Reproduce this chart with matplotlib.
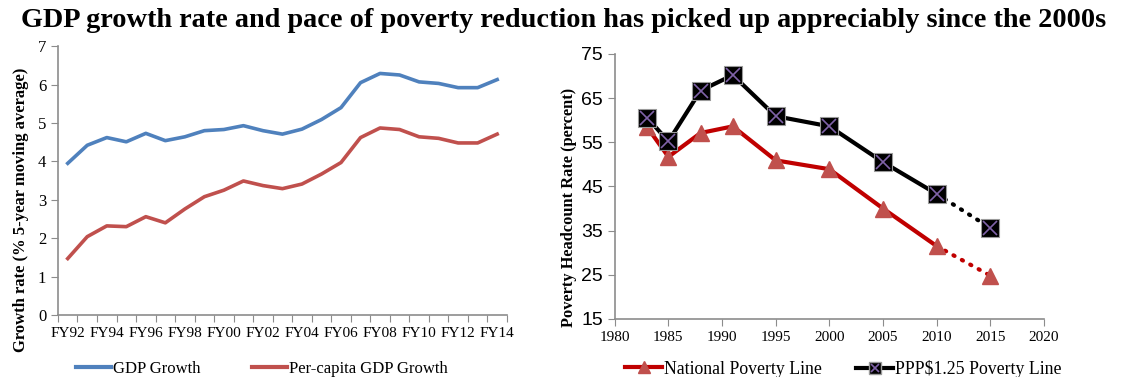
import matplotlib
matplotlib.use("Agg")
import matplotlib.pyplot as plt
from matplotlib.lines import Line2D

# ---- data -------------------------------------------------------------
fiscal_years = ["FY92", "FY93", "FY94", "FY95", "FY96", "FY97", "FY98", "FY99",
                "FY00", "FY01", "FY02", "FY03", "FY04", "FY05", "FY06", "FY07",
                "FY08", "FY09", "FY10", "FY11", "FY12", "FY13", "FY14"]
gdp_growth = [3.95, 4.42, 4.62, 4.51, 4.73, 4.54, 4.64, 4.80, 4.83, 4.93, 4.80,
              4.71, 4.84, 5.09, 5.40, 6.05, 6.29, 6.25, 6.07, 6.03, 5.92, 5.92, 6.13]
percap_growth = [1.47, 2.04, 2.32, 2.30, 2.56, 2.40, 2.76, 3.08, 3.25, 3.49, 3.37,
                 3.29, 3.41, 3.67, 3.97, 4.62, 4.87, 4.83, 4.64, 4.60, 4.48, 4.48, 4.71]

survey_years = [1983, 1985, 1988, 1991, 1995, 2000, 2005, 2010, 2015]
national_line = [58.5, 51.7, 57.1, 58.6, 50.9, 48.9, 40.0, 31.5, 24.8]
ppp_line = [60.6, 55.2, 66.7, 70.2, 60.9, 58.6, 50.5, 43.3, 35.6]

# ---- style ------------------------------------------------------------
SERIF = "Liberation Serif"
SANS = "Liberation Sans"
BLUE = "#4F81BD"
RED_SOFT = "#C0504D"
RED = "#C00000"
PURPLE = "#7F62A8"
SPINE = "#8C8C8C"
W, H = 1128, 377

fig = plt.figure(figsize=(W / 100, H / 100), dpi=100)

fig.text(0.5, 0.945, "GDP growth rate and pace of poverty reduction has picked up appreciably since the 2000s",
         ha="center", va="center", fontsize=20.3, fontweight="bold", family=SERIF)


def style_spines(ax):
    for side in ("top", "right"):
        ax.spines[side].set_visible(False)
    for side in ("left", "bottom"):
        ax.spines[side].set_color(SPINE)
        ax.spines[side].set_linewidth(1.2)


def legend_entry(handle, label, x_px, size):
    fig.legend([handle], [label], loc="center left",
               bbox_to_anchor=(x_px / W, 1 - 369 / H), frameon=False,
               prop={"family": SERIF, "size": size}, handlelength=2.1,
               handletextpad=0.1, borderpad=0, borderaxespad=0)


# ---- left panel: growth rates ----------------------------------------
ax1 = fig.add_axes([0.0514, 0.1645, 0.398, 0.713])
x = list(range(len(fiscal_years)))
ax1.plot(x, gdp_growth, color=BLUE, lw=2.6, solid_joinstyle="round")
ax1.plot(x, percap_growth, color=RED_SOFT, lw=2.6, solid_joinstyle="round")
ax1.set_xlim(-0.5, len(fiscal_years) - 0.5)
ax1.set_ylim(0, 7)
ax1.set_yticks(range(0, 8))
ax1.set_xticks([i - 0.5 for i in range(len(fiscal_years) + 1)])
ax1.set_xticklabels([])
ax1.set_xticks(x[::2], minor=True)
ax1.set_xticklabels(fiscal_years[::2], minor=True, family=SERIF, fontsize=11)
ax1.tick_params(axis="x", which="minor", length=0, pad=9)
ax1.tick_params(axis="x", which="major", length=5, color=SPINE, direction="out")
ax1.tick_params(axis="y", length=5, color=SPINE, direction="out", labelsize=12)
for lab in ax1.get_yticklabels():
    lab.set_family(SERIF)
style_spines(ax1)
ax1.set_ylabel("Growth rate (% 5-year moving average)", family=SERIF,
               fontweight="bold", fontsize=12)
ax1.yaxis.set_label_coords(-0.065, 0.39)

legend_entry(Line2D([], [], color=BLUE, lw=3), "GDP Growth", 76, 12)
legend_entry(Line2D([], [], color=RED_SOFT, lw=3), "Per-capita GDP Growth", 252, 12)

# ---- right panel: poverty headcount ----------------------------------
ax2 = fig.add_axes([0.545, 0.154, 0.3805, 0.703])


def poverty_series(vals, color, marker_kw, overlay_kw=None):
    ax2.plot(survey_years[:-1], vals[:-1], color=color, lw=3, zorder=2)
    ax2.plot(survey_years[-2:], vals[-2:], color=color, lw=3, ls=(0, (0.3, 2.0)),
             dash_capstyle="round", zorder=2)
    ax2.plot(survey_years, vals, ls="none", zorder=3, **marker_kw)
    if overlay_kw:
        ax2.plot(survey_years, vals, ls="none", zorder=4, **overlay_kw)


poverty_series(national_line, RED,
               dict(marker="^", ms=11, mfc=RED_SOFT, mec=RED_SOFT))
poverty_series(ppp_line, "black",
               dict(marker="s", ms=12.5, mfc="black", mec="#9A9A9A", mew=0.8),
               dict(marker="x", ms=10, mec=PURPLE, mew=1.2))

ax2.set_xlim(1980, 2020)
ax2.set_ylim(15, 75)
ax2.set_xticks(range(1980, 2021, 5))
ax2.set_yticks(range(15, 76, 10))
ax2.tick_params(axis="both", length=5, color=SPINE, direction="out")
ax2.tick_params(axis="x", labelsize=11)
ax2.tick_params(axis="y", labelsize=14)
for lab in ax2.get_xticklabels():
    lab.set_family(SERIF)
for lab in ax2.get_yticklabels():
    lab.set_family(SANS)
style_spines(ax2)
ax2.set_ylabel("Poverty Headcount Rate (percent)", family=SERIF,
               fontweight="bold", fontsize=11.8)
ax2.yaxis.set_label_coords(-0.088, 0.42)

legend_entry(Line2D([], [], color=RED, lw=3, marker="^", ms=8,
                    mfc=RED_SOFT, mec=RED_SOFT),
             "National Poverty Line", 625, 12.8)
legend_entry((Line2D([], [], color="black", lw=3, marker="s", ms=8,
                     mfc="black", mec="#9A9A9A"),
              Line2D([], [], ls="none", marker="x", ms=6, mec=PURPLE, mew=1.2)),
             "PPP$1.25 Poverty Line", 856, 12.8)

fig.savefig("out.png", dpi=100)
